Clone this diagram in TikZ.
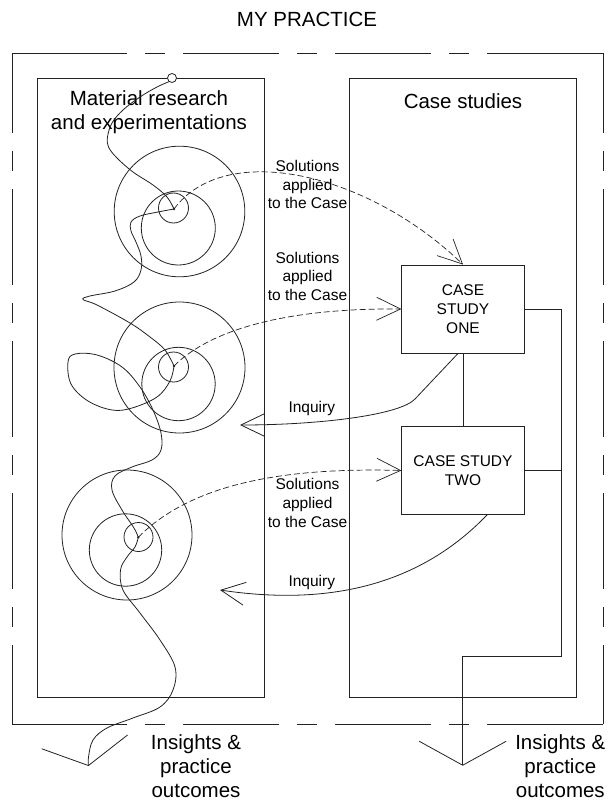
\documentclass[tikz,border=0pt]{standalone}
\usepackage{fontspec}
\setmainfont{Liberation Sans}
\usetikzlibrary{positioning,arrows.meta}
\definecolor{ink}{HTML}{222222}

\begin{document}
\begin{tikzpicture}[x=1pt,y=-1pt,
  font=\fontsize{15.5}{18.8}\selectfont,
  big/.style={font=\fontsize{20.5}{24}\selectfont,align=center,inner sep=0pt},
  lbl/.style={font=\fontsize{15.5}{18.6}\selectfont,align=center,inner sep=0pt},
  panel/.style={draw=ink,line width=1.1pt,minimum width=227.4pt,minimum height=619pt},
  casebox/.style={draw=ink,line width=0.9pt,minimum width=122.3pt,minimum height=88pt,align=center,inner sep=2pt},
  wire/.style={line width=0.8pt,ink},
  sol/.style={line width=0.7pt,ink,dash pattern=on 6pt off 3pt,-{Straight Barb[length=24pt,width=23pt]}},
  inq/.style={line width=0.8pt,ink,-{Straight Barb[length=24pt,width=23pt]}},
  outlet/.style={line width=0.8pt,ink,-{Straight Barb[length=24pt,width=87pt]}},
  hdash/.style={line width=0.9pt,ink,dash pattern=on 115pt off 18pt on 20pt off 18pt on 96pt off 18pt on 20pt off 18pt on 96pt off 18pt on 20pt off 18pt on 116pt off 20pt},
  vdash/.style={line width=0.9pt,ink,dash pattern=on 80pt off 18pt on 20pt off 18pt on 96pt off 18pt on 20pt off 18pt on 96pt off 18pt on 20pt off 18pt on 96pt off 18pt on 20pt off 18pt on 80pt off 20pt},
]
\useasboundingbox (0,0) rectangle (609,802);

% outer frame of the practice
\node[big] (ttl) at (307,19) {MY PRACTICE};
\coordinate (pnw) at (12,53);
\coordinate (pse) at (603,724);
\draw[hdash] (pnw) -- (pnw -| pse);
\draw[hdash] (pse -| pnw) -- (pse);
\draw[vdash] (pnw) -- (pse -| pnw);
\draw[vdash] (pnw -| pse) -- (pse);

% the two panels
\node[panel] (mat) at (150.75,387.8) {};
\node[panel] (cases) at (463,387.8) {};
\node[big] (matlbl) at (149,112.5) {Material research\\and experimentations};
\node[big] (caselbl) at (463,101) {Case studies};

% case studies
\node[casebox] (cs1) at (463,309) {CASE\\STUDY\\ONE};
\node[casebox,below=72.6pt of cs1] (cs2) {CASE STUDY\\TWO};
\draw[wire] (cs1.south) -- (cs2.north);

% spirals of experimentation
\coordinate (d1) at (174,209);
\coordinate (d2) at (174,366);
\coordinate (d3) at (138.3,537.3);
\draw[wire] (173.5,208) circle (15) (178.3,228) circle (37) (179.5,211.5) circle (65.3);
\draw[wire] (173.5,367) circle (15) (178.5,384) circle (36.7) (179.5,367.5) circle (65.5);
\draw[wire] (138.5,537) circle (14.5) (125.5,550) circle (36.2) (127,535) circle (65);
\foreach \d in {d1,d2,d3} \fill[ink] (\d) circle (1.3);

% research thread
\coordinate (src) at (172,78);
\coordinate (outl) at (88.5,766);
\draw[wire] plot[smooth,tension=0.6] coordinates {(169.5,81.5) (157,87) (140,97) (123,110) (112,123) (107.5,137) (108.5,147) (117,158) (133,172) (153,185) (167,197) (174,209)};
\draw[wire] plot[smooth,tension=0.6] coordinates {(174,209) (158,212) (140,216) (131,222) (131,231) (136,242) (141,256) (141,270) (134,282) (115,291) (90,296) (83,299.5) (97,305) (130,323) (150,337) (165,350) (174,366)};
\draw[wire] plot[smooth,tension=0.6] coordinates {(174,366) (170,381) (157,397) (132,408) (112,410) (88,401) (71,384) (68,362) (75,354) (97,355) (122,367) (140,387) (153,410) (161,433) (161,450) (152,460) (132,467) (115,476) (112,490) (122,510) (134,528) (138.3,537.3)};
\draw[outlet] plot[smooth,tension=0.6] coordinates {(138.3,537.3) (135,547) (127,557) (120.5,570) (123,590) (140,613) (160,640) (175,667) (173,690) (160,707) (133,718) (107,728) (93,740) (88.5,757) (outl)};
\draw[wire,fill=white] (src) circle (4.5);

% solutions applied
\draw[sol] (d1) .. controls (225,140) and (367,172) .. (cs1.north);
\draw[sol] (d2) .. controls (215,325) and (300,308) .. (cs1.west);
\draw[sol] (d3) .. controls (190,485) and (280,467) .. (cs2.west);
\node[lbl] (sol1) at (307.5,184.5) {Solutions\\applied\\to the Case};
\node[lbl] (sol2) at (307.5,276.3) {Solutions\\applied\\to the Case};
\node[lbl] (sol3) at (307.5,503) {Solutions\\applied\\to the Case};

% inquiries back
\coordinate (in1) at (240,425);
\coordinate (in2) at (220,590);
\draw[inq] ([xshift=-5pt]cs1.south) -- (415,399) .. controls (400,415) and (320,425) .. (in1);
\draw[inq] ([xshift=24pt]cs2.south) .. controls (415,590) and (320,605) .. (in2);
\node[lbl] (inq1) at (311.8,408) {Inquiry};
\node[lbl] (inq2) at (311.8,582) {Inquiry};

% outcomes
\coordinate (jn) at (561.7,656.7);
\coordinate (outr) at (462.7,765.7);
\draw[outlet] (cs1.east) -| (jn) -| (outr);
\draw[wire] (cs2.east) -- (cs2.east -| jn);
\node[big] (res1) at (196,766) {Insights \&\\practice\\outcomes};
\node[big] (res2) at (560.3,766) {Insights \&\\practice\\outcomes};
\end{tikzpicture}
\end{document}
